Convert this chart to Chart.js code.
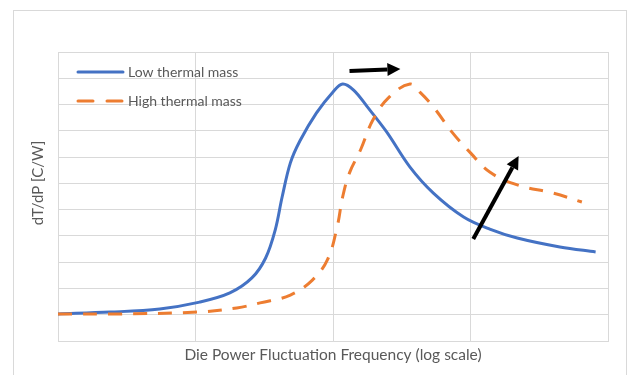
<!DOCTYPE html>
<html lang="en">
<head>
  <meta charset="UTF-8">
  <title>dT/dP vs frequency</title>
  <script src="https://cdn.jsdelivr.net/npm/chart.js"></script>
  <style>
    body {
      margin: 0;
      padding: 0;
      background: #ffffff;
    }
    #chart {
      display: block;
    }
  </style>
</head>
<body>
  <canvas id="chart" width="629" height="375"></canvas>

  <script>
    // Values (x = decades of frequency, y = grid units)
    const seriesNames = ['Low thermal mass', 'High thermal mass'];

    const lowX = [0, 0.38, 0.74, 1.03, 1.25, 1.41, 1.51, 1.58, 1.63, 1.69, 1.76, 1.88, 2.00, 2.07, 2.15, 2.25, 2.39, 2.56, 2.73, 2.95, 3.14, 3.34, 3.65, 3.91];
    const lowY = [1.03, 1.10, 1.22, 1.48, 1.83, 2.40, 3.16, 4.23, 5.48, 6.78, 7.62, 8.68, 9.48, 9.78, 9.55, 8.91, 7.96, 6.62, 5.63, 4.72, 4.26, 3.92, 3.58, 3.39];

    const highX = [0, 0.43, 1.01, 1.30, 1.47, 1.69, 1.85, 1.96, 2.03, 2.07, 2.12, 2.20, 2.29, 2.41, 2.56, 2.63, 2.73, 2.87, 3.00, 3.14, 3.34, 3.60, 3.81];
    const highY = [1.03, 1.03, 1.10, 1.26, 1.45, 1.75, 2.32, 3.10, 4.34, 5.48, 6.40, 7.27, 8.41, 9.29, 9.78, 9.48, 8.91, 7.92, 7.16, 6.43, 5.94, 5.63, 5.29];

    // annotation arrows, [fromX, fromY, toX, toY] in axis units
    const arrows = [
      [2.12, 10.28, 2.49, 10.35],
      [3.02, 3.88, 3.35, 7.04]
    ];

    const xMax = 4;
    const yMax = 11;

    function toPoints(xs, ys) {
      return xs.map((x, i) => ({ x: x, y: ys[i] }));
    }

    // outer frame of the chart object
    const framePlugin = {
      id: 'frame',
      beforeDraw(chart) {
        const ctx = chart.ctx;
        ctx.save();
        ctx.fillStyle = '#ffffff';
        ctx.fillRect(0, 0, chart.width, chart.height);
        ctx.strokeStyle = '#D9D9D9';
        ctx.lineWidth = 1;
        ctx.strokeRect(13.5, 10.5, 613, 400);
        ctx.restore();
      }
    };

    // legend sitting inside the plot, top left
    const legendPlugin = {
      id: 'insideLegend',
      afterDraw(chart) {
        const ctx = chart.ctx;
        ctx.save();
        chart.data.datasets.forEach((ds, i) => {
          const y = 72 + i * 29;
          ctx.beginPath();
          ctx.strokeStyle = ds.borderColor;
          ctx.lineWidth = ds.borderWidth;
          ctx.lineCap = 'round';
          ctx.setLineDash(ds.borderDash ? [15, 14] : []);
          ctx.moveTo(78, y);
          ctx.lineTo(123, y);
          ctx.stroke();
          ctx.setLineDash([]);
          ctx.fillStyle = '#595959';
          ctx.font = '14px Lato';
          ctx.textBaseline = 'middle';
          ctx.fillText(ds.label, 128, y);
        });
        ctx.restore();
      }
    };

    // black arrows
    const arrowPlugin = {
      id: 'arrows',
      afterDatasetsDraw(chart) {
        const ctx = chart.ctx;
        const xs = chart.scales.x;
        const ys = chart.scales.y;
        ctx.save();
        ctx.strokeStyle = '#000000';
        ctx.fillStyle = '#000000';
        ctx.lineWidth = 4;
        arrows.forEach(a => {
          const x1 = xs.getPixelForValue(a[0]);
          const y1 = ys.getPixelForValue(a[1]);
          const x2 = xs.getPixelForValue(a[2]);
          const y2 = ys.getPixelForValue(a[3]);
          const ang = Math.atan2(y2 - y1, x2 - x1);
          const head = 13;
          const bx = x2 - head * Math.cos(ang);
          const by = y2 - head * Math.sin(ang);
          ctx.beginPath();
          ctx.moveTo(x1, y1);
          ctx.lineTo(bx, by);
          ctx.stroke();
          ctx.beginPath();
          ctx.moveTo(x2, y2);
          ctx.lineTo(bx + 6.5 * Math.sin(ang), by - 6.5 * Math.cos(ang));
          ctx.lineTo(bx - 6.5 * Math.sin(ang), by + 6.5 * Math.cos(ang));
          ctx.closePath();
          ctx.fill();
        });
        ctx.restore();
      }
    };

    const ctx = document.getElementById('chart').getContext('2d');
    new Chart(ctx, {
      type: 'line',
      data: {
        datasets: [{
          label: seriesNames[0],
          data: toPoints(lowX, lowY),
          borderColor: '#4472C4',
          borderWidth: 3,
          pointRadius: 0,
          tension: 0.35,
          order: 1,
          fill: false
        }, {
          label: seriesNames[1],
          data: toPoints(highX, highY),
          borderColor: '#ED7D31',
          borderWidth: 3,
          borderDash: [14, 11],
          pointRadius: 0,
          tension: 0.4,
          order: 0,
          fill: false
        }]
      },
      options: {
        responsive: false,
        animation: false,
        devicePixelRatio: 1,
        layout: {
          padding: { left: 13, top: 52, right: 21, bottom: 0 }
        },
        plugins: {
          legend: { display: false },
          tooltip: { enabled: false }
        },
        scales: {
          x: {
            type: 'linear',
            min: 0,
            max: xMax,
            ticks: { display: false, stepSize: 1 },
            grid: { color: '#D9D9D9', drawTicks: false },
            border: { color: '#D9D9D9' },
            title: {
              display: true,
              text: 'Die Power Fluctuation Frequency (log scale)',
              color: '#595959',
              font: { family: 'Lato', size: 15.5 },
              padding: { top: 0, bottom: 11 }
            },
            afterFit(scale) { scale.height = 34; }
          },
          y: {
            min: 0,
            max: yMax,
            ticks: { display: false, stepSize: 1 },
            grid: { color: '#D9D9D9', drawTicks: false },
            border: { color: '#D9D9D9' },
            title: {
              display: true,
              // leading spaces lift the rotated label a little, as in the original
              text: '       dT/dP [C/W]',
              color: '#595959',
              font: { family: 'Lato', size: 15 },
              padding: { top: 16, bottom: 0 }
            },
            afterFit(scale) { scale.width = 45; }
          }
        }
      },
      plugins: [framePlugin, legendPlugin, arrowPlugin]
    });
  </script>
</body>
</html>
